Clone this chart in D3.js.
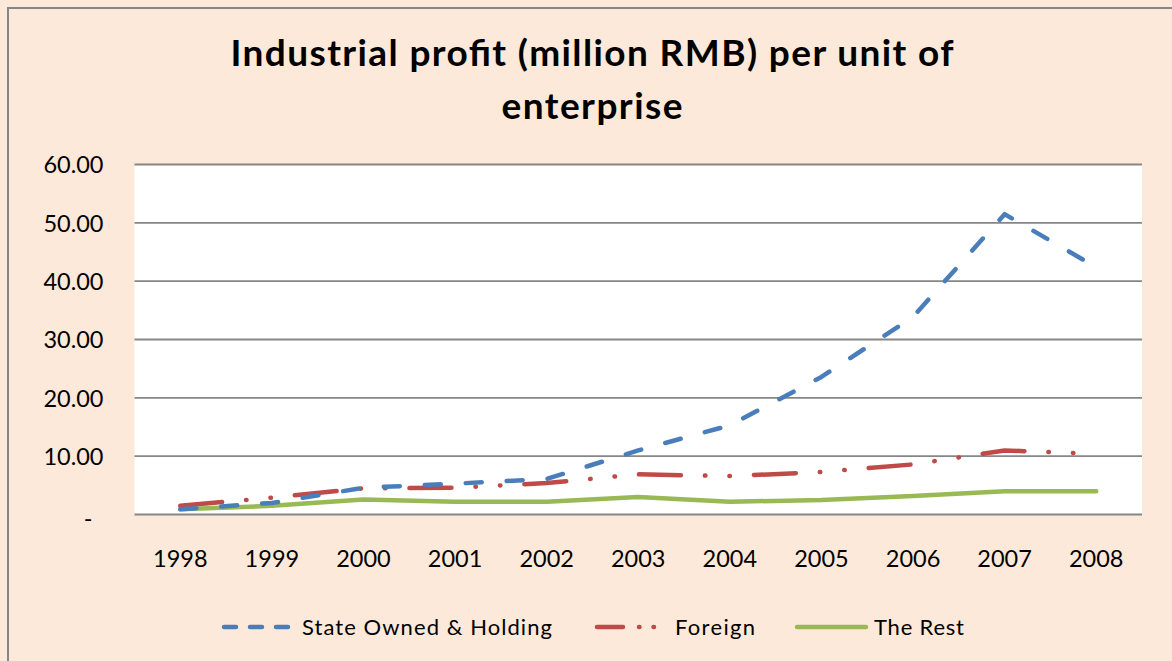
<!DOCTYPE html>
<html>
<head>
<meta charset="utf-8">
<script src="https://cdn.jsdelivr.net/npm/d3@7"></script>
<style>
  html, body { margin: 0; padding: 0; background: #fde9d9; }
  svg { display: block; }
</style>
</head>
<body>
<svg id="chart" width="1172" height="661"></svg>
<script>
const years = ["1998","1999","2000","2001","2002","2003","2004","2005","2006","2007","2008"];
const stateOwned = [0.8, 1.9, 4.5, 5.2, 6.0, 10.9, 15.2, 23.5, 33.8, 51.4, 42.3];
const foreign = [1.4, 2.8, 4.4, 4.5, 5.3, 6.8, 6.5, 7.2, 8.5, 10.9, 10.3];
const theRest = [0.8, 1.4, 2.5, 2.1, 2.1, 2.9, 2.1, 2.4, 3.1, 3.9, 3.9];
const yTicks = [0, 10, 20, 30, 40, 50, 60];
const seriesNames = ["State Owned & Holding", "Foreign", "The Rest"];
const titleLines = ["Industrial profit (million RMB) per unit of", "enterprise"];

const series = [
  { name: seriesNames[0], values: stateOwned, color: "#4a7ebb", dash: "16,25", legendDash: "12,14" },
  { name: seriesNames[1], values: foreign, color: "#be4b48", dash: "42,24,0.5,24,0.5,24", legendDash: "26,16,0.5,14,0.5,30" },
  { name: seriesNames[2], values: theRest, color: "#98b954", dash: null, legendDash: null }
];

const svg = d3.select("#chart");
const font = "Lato, 'Open Sans', sans-serif";

svg.append("rect").attr("x", 0).attr("y", 0).attr("width", 1172).attr("height", 661).attr("fill", "#fde9d9");
svg.append("rect").attr("x", 8).attr("y", 8).attr("width", 1300).attr("height", 800)
  .attr("fill", "#fde9d9").attr("stroke", "#868686").attr("stroke-width", 2);

const plot = { left: 134.5, right: 1142, top: 164, bottom: 514 };

const x = d3.scaleBand().domain(years).range([plot.left, plot.right]).paddingInner(0).paddingOuter(0);
const y = d3.scaleLinear().domain([0, 60]).range([plot.bottom, plot.top]);

svg.append("rect").attr("x", plot.left).attr("y", plot.top)
  .attr("width", plot.right - plot.left).attr("height", plot.bottom - plot.top)
  .attr("fill", "#ffffff");

const yAxis = d3.axisLeft(y).tickValues(yTicks)
  .tickSize(-(plot.right - plot.left)).tickPadding(31)
  .tickFormat(d => d === 0 ? "-" : d3.format(".2f")(d));
const gy = svg.append("g").attr("transform", `translate(${plot.left},0)`).call(yAxis);
gy.select(".domain").remove();
gy.selectAll(".tick line").attr("stroke", "#868686").attr("stroke-width", 1.8);
gy.selectAll(".tick text").attr("fill", "#000").style("font-family", font).style("font-size", "23.5px")
  .attr("dy", "0.38em");
gy.selectAll(".tick").filter(d => d === 0).select("text")
  .attr("text-anchor", "middle").attr("x", 88 - plot.left).attr("dy", "0.55em");

const xAxis = d3.axisBottom(x).tickSize(0).tickPadding(36);
const gx = svg.append("g").attr("transform", `translate(0,${plot.bottom})`).call(xAxis);
gx.select(".domain").remove();
gx.selectAll(".tick text").attr("fill", "#000").style("font-family", font).style("font-size", "23.5px")
  .attr("dy", "0").attr("y", 53);

const line = d3.line().x((d, i) => x(years[i]) + x.bandwidth() / 2).y(d => y(d));
series.slice().reverse().forEach(s => {
  svg.append("path").datum(s.values)
    .attr("d", line)
    .attr("fill", "none")
    .attr("stroke", s.color)
    .attr("stroke-width", 4.5)
    .attr("stroke-linecap", "round")
    .attr("stroke-linejoin", "round")
    .attr("stroke-dasharray", s.dash);
});

// title
const tl = [66, 119];
const tw = [723, 181];
titleLines.forEach((t, i) => {
  svg.append("text").attr("x", 592).attr("y", tl[i]).attr("text-anchor", "middle")
    .style("font-family", font).style("font-weight", "bold").style("font-size", "37px")
    .attr("textLength", tw[i]).attr("lengthAdjust", "spacing")
    .attr("fill", "#000").text(t);
});

// legend
const legendItems = [
  { s: series[0], x1: 224, x2: 294, tx: 302, w: 250 },
  { s: series[1], x1: 597, x2: 662, tx: 675, w: 80 },
  { s: series[2], x1: 797, x2: 866, tx: 874, w: 90 }
];
const ly = 627;
legendItems.forEach(it => {
  svg.append("line").attr("x1", it.x1).attr("x2", it.x2).attr("y1", ly).attr("y2", ly)
    .attr("stroke", it.s.color).attr("stroke-width", 4.5).attr("stroke-linecap", "round")
    .attr("stroke-dasharray", it.s.legendDash);
  svg.append("text").attr("x", it.tx).attr("y", 635)
    .style("font-family", font).style("font-size", "22px").attr("fill", "#000")
    .attr("textLength", it.w).attr("lengthAdjust", "spacing").text(it.s.name);
});
</script>
</body>
</html>
